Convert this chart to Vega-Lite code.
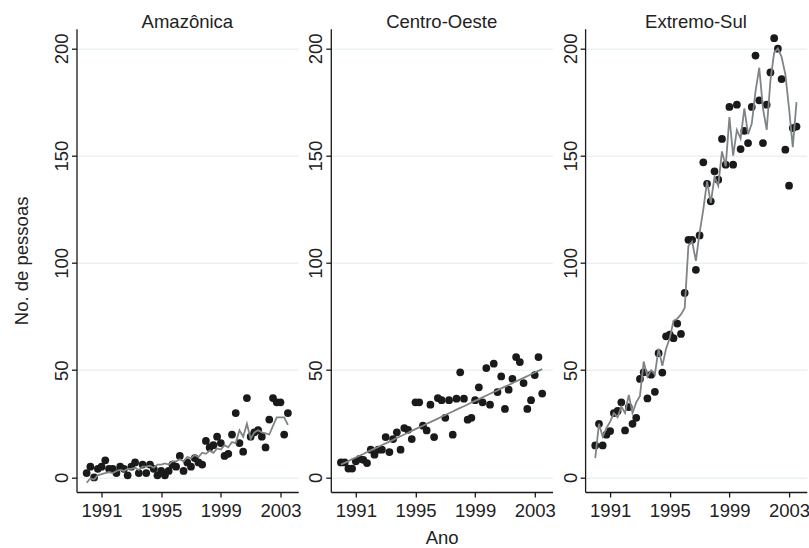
{
 "$schema": "https://vega.github.io/schema/vega-lite/v6.json",
 "background": "white",
 "padding": {"left": 11.5, "top": 12.7, "right": 0, "bottom": 0},
 "config": {
  "view": {"stroke": null},
  "font": "Liberation Sans",
  "axis": {"domainColor": "#1a1a1a", "domainWidth": 1.3, "tickColor": "#1a1a1a", "tickWidth": 1.3, "tickSize": 5, "labelColor": "#222", "labelFontSize": 18.5, "titleFontSize": 18.5, "titleFontWeight": "normal", "titleColor": "#222", "labelFont": "Liberation Sans", "titleFont": "Liberation Sans"},
  "title": {"fontSize": 18.5, "fontWeight": "normal", "color": "#222", "offset": -3, "baseline": "alphabetic", "font": "Liberation Sans"}
 },
 "spacing": 32.3,
 "bounds": "flush",
 "datasets": {
  "d": [
   {"r":"A","t":1990,"n":2,"f":-2.5},{"r":"A","t":1990.25,"n":5,"f":-0.5},{"r":"A","t":1990.5,"n":0,"f":-1},{"r":"A","t":1990.75,"n":4,"f":1},
   {"r":"A","t":1991,"n":5,"f":1.5},{"r":"A","t":1991.25,"n":8,"f":2},{"r":"A","t":1991.5,"n":4,"f":2.5},{"r":"A","t":1991.75,"n":4,"f":2},
   {"r":"A","t":1992,"n":2,"f":3},{"r":"A","t":1992.25,"n":5,"f":3.5},{"r":"A","t":1992.5,"n":4,"f":3},{"r":"A","t":1992.75,"n":1,"f":4},
   {"r":"A","t":1993,"n":5,"f":4},{"r":"A","t":1993.25,"n":7,"f":4.5},{"r":"A","t":1993.5,"n":2,"f":3.5},{"r":"A","t":1993.75,"n":6,"f":5},
   {"r":"A","t":1994,"n":2,"f":5},{"r":"A","t":1994.25,"n":6,"f":5.5},{"r":"A","t":1994.5,"n":4,"f":4.5},{"r":"A","t":1994.75,"n":1,"f":6},
   {"r":"A","t":1995,"n":3,"f":6},{"r":"A","t":1995.25,"n":1,"f":6.5},{"r":"A","t":1995.5,"n":3,"f":6},{"r":"A","t":1995.75,"n":6,"f":7.5},
   {"r":"A","t":1996,"n":5,"f":7.5},{"r":"A","t":1996.25,"n":10,"f":8.5},{"r":"A","t":1996.5,"n":3,"f":7.5},{"r":"A","t":1996.75,"n":7,"f":9.5},
   {"r":"A","t":1997,"n":5,"f":9},{"r":"A","t":1997.25,"n":9,"f":10.5},{"r":"A","t":1997.5,"n":7,"f":9.5},{"r":"A","t":1997.75,"n":6,"f":11.5},
   {"r":"A","t":1998,"n":17,"f":11},{"r":"A","t":1998.25,"n":14,"f":12.5},{"r":"A","t":1998.5,"n":15,"f":11.5},{"r":"A","t":1998.75,"n":19,"f":13.5},
   {"r":"A","t":1999,"n":16,"f":13},{"r":"A","t":1999.25,"n":10,"f":15},{"r":"A","t":1999.5,"n":11,"f":14},{"r":"A","t":1999.75,"n":20,"f":16.5},
   {"r":"A","t":2000,"n":30,"f":16},{"r":"A","t":2000.25,"n":16,"f":22},{"r":"A","t":2000.5,"n":12,"f":19},{"r":"A","t":2000.75,"n":37,"f":25},
   {"r":"A","t":2001,"n":19,"f":18},{"r":"A","t":2001.25,"n":21,"f":21},{"r":"A","t":2001.5,"n":22,"f":22},{"r":"A","t":2001.75,"n":19,"f":21},
   {"r":"A","t":2002,"n":14,"f":20.5},{"r":"A","t":2002.25,"n":27,"f":20},{"r":"A","t":2002.5,"n":37,"f":24},{"r":"A","t":2002.75,"n":35,"f":28},
   {"r":"A","t":2003,"n":35,"f":28},{"r":"A","t":2003.25,"n":20,"f":28},{"r":"A","t":2003.5,"n":30,"f":24.5},

   {"r":"C","t":1990,"n":7.0,"f":6.0},{"r":"C","t":1990.25,"n":7.0,"f":6.8},{"r":"C","t":1990.5,"n":4.1,"f":7.6},{"r":"C","t":1990.75,"n":4.1,"f":8.5},
   {"r":"C","t":1991,"n":7.5,"f":9.3},{"r":"C","t":1991.25,"n":8.6,"f":10.1},{"r":"C","t":1991.5,"n":8.2,"f":10.9},{"r":"C","t":1991.75,"n":6.7,"f":11.8},
   {"r":"C","t":1992,"n":12.9,"f":12.6},{"r":"C","t":1992.25,"n":10.6,"f":13.4},{"r":"C","t":1992.5,"n":12.9,"f":14.2},{"r":"C","t":1992.75,"n":12.9,"f":15.1},
   {"r":"C","t":1993,"n":18.8,"f":15.9},{"r":"C","t":1993.25,"n":11.8,"f":16.7},{"r":"C","t":1993.5,"n":17.9,"f":17.5},{"r":"C","t":1993.75,"n":21.0,"f":18.4},
   {"r":"C","t":1994,"n":12.9,"f":19.2},{"r":"C","t":1994.25,"n":23.0,"f":20.0},{"r":"C","t":1994.5,"n":22.2,"f":20.8},{"r":"C","t":1994.75,"n":17.9,"f":21.7},
   {"r":"C","t":1995,"n":35.0,"f":22.5},{"r":"C","t":1995.25,"n":35.0,"f":23.3},{"r":"C","t":1995.5,"n":24.1,"f":24.1},{"r":"C","t":1995.75,"n":21.9,"f":25.0},
   {"r":"C","t":1996,"n":33.9,"f":25.8},{"r":"C","t":1996.25,"n":18.8,"f":26.6},{"r":"C","t":1996.5,"n":37.0,"f":27.4},{"r":"C","t":1996.75,"n":36.0,"f":28.3},
   {"r":"C","t":1997,"n":27.8,"f":29.1},{"r":"C","t":1997.25,"n":36.0,"f":29.9},{"r":"C","t":1997.5,"n":19.9,"f":30.7},{"r":"C","t":1997.75,"n":36.7,"f":31.6},
   {"r":"C","t":1998,"n":49.0,"f":32.4},{"r":"C","t":1998.25,"n":36.7,"f":33.2},{"r":"C","t":1998.5,"n":26.9,"f":34.0},{"r":"C","t":1998.75,"n":27.8,"f":34.9},
   {"r":"C","t":1999,"n":36.0,"f":35.7},{"r":"C","t":1999.25,"n":42.0,"f":36.5},{"r":"C","t":1999.5,"n":35.0,"f":37.3},{"r":"C","t":1999.75,"n":51.0,"f":38.2},
   {"r":"C","t":2000,"n":33.9,"f":39.0},{"r":"C","t":2000.25,"n":53.0,"f":39.8},{"r":"C","t":2000.5,"n":39.8,"f":40.6},{"r":"C","t":2000.75,"n":47.1,"f":41.5},
   {"r":"C","t":2001,"n":31.9,"f":42.3},{"r":"C","t":2001.25,"n":40.9,"f":43.1},{"r":"C","t":2001.5,"n":46.0,"f":43.9},{"r":"C","t":2001.75,"n":56.1,"f":44.8},
   {"r":"C","t":2002,"n":53.8,"f":45.6},{"r":"C","t":2002.25,"n":44.0,"f":46.4},{"r":"C","t":2002.5,"n":31.9,"f":47.2},{"r":"C","t":2002.75,"n":36.0,"f":48.1},
   {"r":"C","t":2003,"n":47.7,"f":48.9},{"r":"C","t":2003.25,"n":56.1,"f":49.7},{"r":"C","t":2003.5,"n":39.1,"f":50.5},

   {"r":"E","t":1990,"n":14.9,"f":9},{"r":"E","t":1990.25,"n":25,"f":25},{"r":"E","t":1990.5,"n":14.9,"f":19},{"r":"E","t":1990.75,"n":19.9,"f":23},
   {"r":"E","t":1991,"n":21.6,"f":26},{"r":"E","t":1991.25,"n":30,"f":30},{"r":"E","t":1991.5,"n":31,"f":28},{"r":"E","t":1991.75,"n":35,"f":33},
   {"r":"E","t":1992,"n":21.9,"f":30},{"r":"E","t":1992.25,"n":32.8,"f":38.5},{"r":"E","t":1992.5,"n":25,"f":30},{"r":"E","t":1992.75,"n":27.8,"f":35},
   {"r":"E","t":1993,"n":45.9,"f":38},{"r":"E","t":1993.25,"n":49,"f":54},{"r":"E","t":1993.5,"n":36.8,"f":47},{"r":"E","t":1993.75,"n":47.9,"f":50},
   {"r":"E","t":1994,"n":39.9,"f":48},{"r":"E","t":1994.25,"n":57.9,"f":60},{"r":"E","t":1994.5,"n":48.9,"f":52},{"r":"E","t":1994.75,"n":65.8,"f":60},
   {"r":"E","t":1995,"n":66.6,"f":65},{"r":"E","t":1995.25,"n":64.9,"f":73},{"r":"E","t":1995.5,"n":71.7,"f":74},{"r":"E","t":1995.75,"n":66.9,"f":76},
   {"r":"E","t":1996,"n":86,"f":79},{"r":"E","t":1996.25,"n":110.8,"f":108},{"r":"E","t":1996.5,"n":110.8,"f":110},{"r":"E","t":1996.75,"n":96.8,"f":101},
   {"r":"E","t":1997,"n":112.8,"f":114},{"r":"E","t":1997.25,"n":146.9,"f":125},{"r":"E","t":1997.5,"n":136.9,"f":138},{"r":"E","t":1997.75,"n":128.7,"f":128},
   {"r":"E","t":1998,"n":142.7,"f":140},{"r":"E","t":1998.25,"n":138.8,"f":136},{"r":"E","t":1998.5,"n":157.8,"f":152},{"r":"E","t":1998.75,"n":145.8,"f":145},
   {"r":"E","t":1999,"n":172.7,"f":168},{"r":"E","t":1999.25,"n":145.8,"f":150},{"r":"E","t":1999.5,"n":173.8,"f":162},{"r":"E","t":1999.75,"n":153.1,"f":158},
   {"r":"E","t":2000,"n":161.6,"f":172},{"r":"E","t":2000.25,"n":155.9,"f":160},{"r":"E","t":2000.5,"n":172.7,"f":165},{"r":"E","t":2000.75,"n":196.7,"f":180},
   {"r":"E","t":2001,"n":175.8,"f":191},{"r":"E","t":2001.25,"n":155.9,"f":172},{"r":"E","t":2001.5,"n":173.8,"f":162},{"r":"E","t":2001.75,"n":188.8,"f":185},
   {"r":"E","t":2002,"n":204.8,"f":198},{"r":"E","t":2002.25,"n":199.9,"f":200},{"r":"E","t":2002.5,"n":185.7,"f":196},{"r":"E","t":2002.75,"n":152.8,"f":188},
   {"r":"E","t":2003,"n":136,"f":172},{"r":"E","t":2003.25,"n":162.9,"f":154},{"r":"E","t":2003.5,"n":163.6,"f":175}
  ]
 },
 "hconcat": [
  {
   "width": 221.7, "height": 463.3,
   "title": "Amazônica",
   "data": {"name": "d"},
   "transform": [{"filter": "datum.r === 'A'"}],
   "encoding": {"x": {"field": "t", "type": "quantitative", "scale": {"domain": [1989.32, 2004.19], "nice": false, "zero": false}, "axis": {"values": [1991, 1995, 1999, 2003], "format": "d", "title": null, "grid": false, "labelPadding": 4}}},
   "layer": [
    {"mark": {"type": "point", "filled": true, "size": 60, "color": "#1a1a1a", "opacity": 1},
     "encoding": {"y": {"field": "n", "type": "quantitative", "scale": {"domain": [-6.8, 209.2], "nice": false, "zero": false}, "axis": {"values": [0, 50, 100, 150, 200], "title": "No. de pessoas", "titlePadding": 21.5, "labelAngle": 270, "labelPadding": 0, "grid": true, "gridColor": "#EAF2F3", "gridWidth": 1.6}}}},
    {"mark": {"type": "line", "color": "#7f8487", "strokeWidth": 1.8},
     "encoding": {"y": {"field": "f", "type": "quantitative"}}}
   ]
  },
  {
   "width": 221.7, "height": 463.3,
   "title": "Centro-Oeste",
   "data": {"name": "d"},
   "transform": [{"filter": "datum.r === 'C'"}],
   "encoding": {"x": {"field": "t", "type": "quantitative", "scale": {"domain": [1989.32, 2004.19], "nice": false, "zero": false}, "axis": {"values": [1991, 1995, 1999, 2003], "format": "d", "title": "Ano", "titlePadding": 9, "grid": false, "labelPadding": 4}}},
   "layer": [
    {"mark": {"type": "point", "filled": true, "size": 60, "color": "#1a1a1a", "opacity": 1},
     "encoding": {"y": {"field": "n", "type": "quantitative", "scale": {"domain": [-6.8, 209.2], "nice": false, "zero": false}, "axis": {"values": [0, 50, 100, 150, 200], "title": null, "labelAngle": 270, "labelPadding": 0, "grid": true, "gridColor": "#EAF2F3", "gridWidth": 1.6}}}},
    {"mark": {"type": "line", "color": "#7f8487", "strokeWidth": 1.8},
     "encoding": {"y": {"field": "f", "type": "quantitative"}}}
   ]
  },
  {
   "width": 221.7, "height": 463.3,
   "title": "Extremo-Sul",
   "data": {"name": "d"},
   "transform": [{"filter": "datum.r === 'E'"}],
   "encoding": {"x": {"field": "t", "type": "quantitative", "scale": {"domain": [1989.32, 2004.19], "nice": false, "zero": false}, "axis": {"values": [1991, 1995, 1999, 2003], "format": "d", "title": null, "grid": false, "labelPadding": 4}}},
   "layer": [
    {"mark": {"type": "point", "filled": true, "size": 60, "color": "#1a1a1a", "opacity": 1},
     "encoding": {"y": {"field": "n", "type": "quantitative", "scale": {"domain": [-6.8, 209.2], "nice": false, "zero": false}, "axis": {"values": [0, 50, 100, 150, 200], "title": null, "labelAngle": 270, "labelPadding": 0, "grid": true, "gridColor": "#EAF2F3", "gridWidth": 1.6}}}},
    {"mark": {"type": "line", "color": "#7f8487", "strokeWidth": 1.8},
     "encoding": {"y": {"field": "f", "type": "quantitative"}}}
   ]
  }
 ]
}
